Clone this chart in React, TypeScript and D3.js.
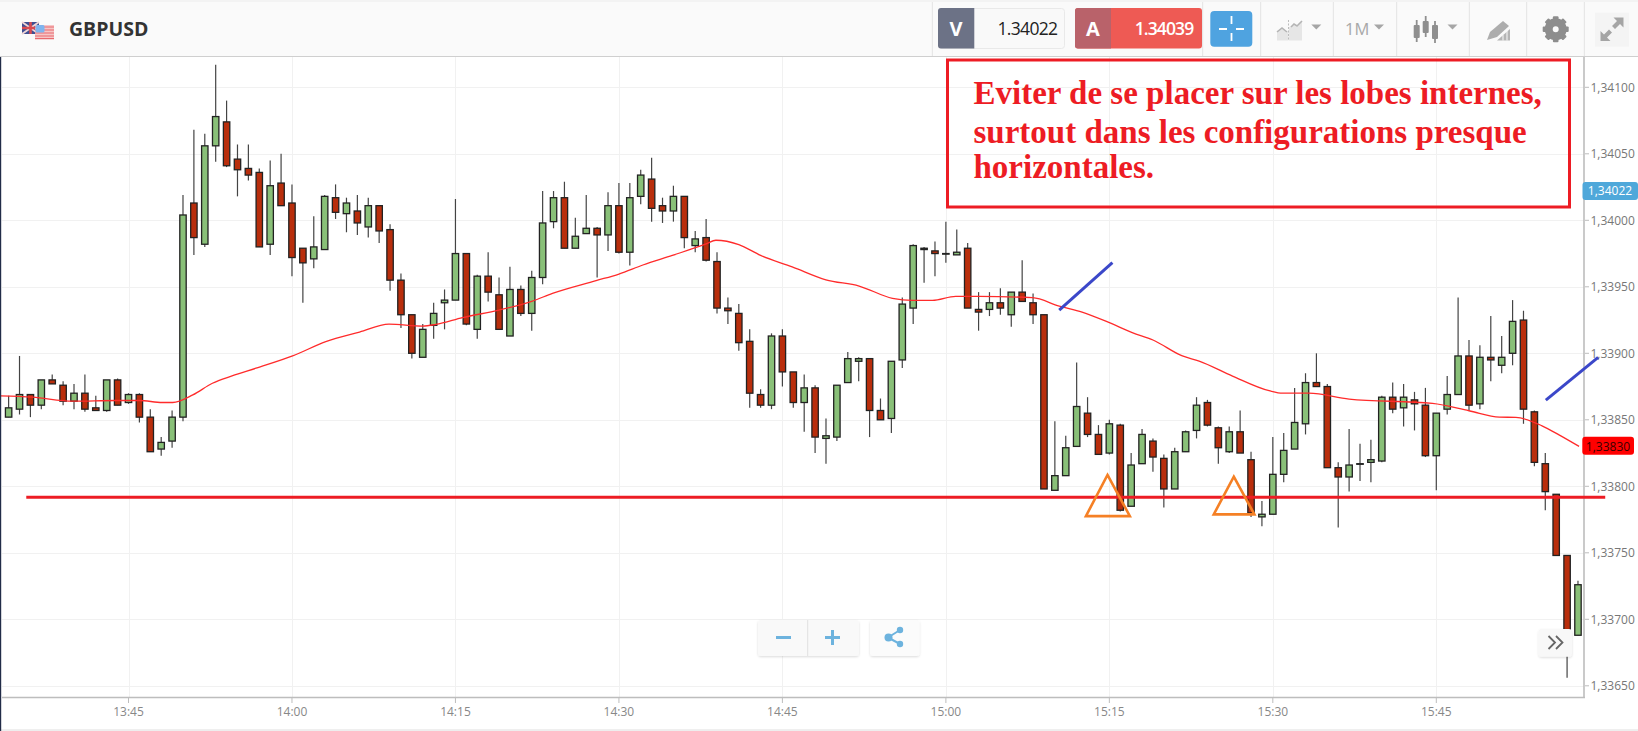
import React from "react";
import * as d3 from "d3";

// All prices are quoted in points of 1e-5 above 1.00000 (33868 = 1,33868)
const firstMinute = new Date(2018, 0, 10, 13, 34);
const highs = [
  33868, 33898, 33869, 33880, 33884, 33879, 33877, 33884, 33868, 33880,
  33881, 33870, 33870, 33858, 33837, 33857, 34019, 34068, 34065, 34117,
  34090, 34057, 34057, 34039, 34045, 34050, 34027, 33979, 34003, 34019,
  34027, 34017, 34019, 34017, 34011, 33997, 33960, 33929, 33922, 33938,
  33948, 34016, 33975, 33959, 33976, 33957, 33965, 33951, 33962, 34022,
  34022, 34029, 34002, 34019, 33995, 34021, 34028, 34028, 34038, 34047,
  34017, 34026, 34018, 33992, 34001, 33976, 33942, 33937, 33918, 33873,
  33915, 33918, 33886, 33884, 33876, 33851, 33876, 33901, 33897, 33896,
  33866, 33894, 33942, 33982, 33980, 33984, 33999, 33993, 33983, 33946,
  33946, 33949, 33946, 33970, 33945, 33929, 33849, 33838, 33893, 33867,
  33846, 33850, 33847, 33825, 33843, 33836, 33824, 33829, 33842, 33867,
  33865, 33845, 33845, 33857, 33826, 33789, 33837, 33840, 33874, 33885,
  33900, 33877, 33818, 33843, 33832, 33835, 33868, 33878, 33877, 33871,
  33874, 33855, 33883, 33942, 33910, 33906, 33928, 33913, 33940, 33932,
  33857, 33825, 33794, 33748, 33729,
];
const lows = [
  33852, 33854, 33852, 33858, 33877, 33861, 33858, 33856, 33857, 33856,
  33861, 33862, 33848, 33826, 33823, 33829, 33849, 33974, 33980, 34044,
  34040, 34018, 34030, 33980, 33974, 34011, 33958, 33938, 33964, 33978,
  34001, 33991, 33989, 33987, 33983, 33947, 33919, 33896, 33897, 33911,
  33918, 33940, 33921, 33911, 33939, 33918, 33913, 33928, 33917, 33952,
  33994, 33979, 33979, 33990, 33957, 33977, 33975, 33966, 34012, 33999,
  33998, 33999, 33979, 33976, 33969, 33930, 33922, 33902, 33859, 33859,
  33858, 33875, 33859, 33841, 33825, 33817, 33834, 33878, 33879, 33837,
  33850, 33840, 33889, 33922, 33953, 33958, 33968, 33974, 33934, 33917,
  33928, 33929, 33920, 33939, 33922, 33798, 33797, 33808, 33830, 33837,
  33824, 33824, 33781, 33785, 33817, 33811, 33784, 33798, 33826, 33836,
  33845, 33817, 33825, 33825, 33777, 33770, 33779, 33803, 33828, 33839,
  33875, 33814, 33769, 33796, 33804, 33803, 33818, 33855, 33845, 33842,
  33822, 33797, 33854, 33869, 33857, 33858, 33879, 33885, 33891, 33847,
  33815, 33782, 33748, 33656, 33688,
];
const opens = [
  33852, 33858, 33869, 33861, 33880, 33876, 33864, 33870, 33859, 33857,
  33880, 33863, 33869, 33852, 33828, 33834, 33852, 34013, 33982, 34056,
  34074, 34046, 34039, 34036, 33982, 34028, 34013, 33979, 33971, 33978,
  34017, 34005, 34007, 33995, 34011, 33993, 33955, 33929, 33897, 33921,
  33938, 33940, 33975, 33918, 33958, 33944, 33913, 33948, 33930, 33957,
  33999, 34017, 33979, 33990, 33994, 33989, 34011, 33976, 34018, 34031,
  34011, 34007, 34018, 33981, 33987, 33969, 33934, 33930, 33909, 33869,
  33861, 33913, 33886, 33863, 33874, 33836, 33837, 33878, 33894, 33896,
  33857, 33851, 33895, 33934, 33978, 33977, 33975, 33974, 33979, 33933,
  33933, 33938, 33929, 33946, 33938, 33929, 33797, 33808, 33830, 33855,
  33839, 33825, 33846, 33785, 33817, 33834, 33821, 33798, 33826, 33842,
  33863, 33844, 33826, 33841, 33820, 33777, 33779, 33809, 33828, 33847,
  33878, 33875, 33814, 33807, 33817, 33818, 33819, 33867, 33859, 33865,
  33861, 33823, 33858, 33869, 33898, 33862, 33897, 33891, 33900, 33925,
  33856, 33817, 33794, 33748, 33688,
];
const closes = [
  33859, 33869, 33861, 33880, 33877, 33864, 33870, 33858, 33857, 33880,
  33861, 33869, 33852, 33826, 33833, 33852, 34004, 33987, 34056, 34078,
  34041, 34038, 34034, 33980, 34026, 34011, 33972, 33968, 33980, 34018,
  34006, 34013, 33998, 34011, 33992, 33955, 33929, 33900, 33918, 33930,
  33940, 33975, 33922, 33958, 33946, 33918, 33948, 33930, 33957, 33998,
  34017, 33979, 33988, 33994, 33989, 34011, 33976, 34017, 34034, 34009,
  34007, 34018, 33987, 33986, 33970, 33934, 33932, 33908, 33870, 33861,
  33913, 33886, 33863, 33874, 33837, 33838, 33876, 33896, 33896, 33857,
  33850, 33894, 33937, 33981, 33979, 33975, 33975, 33976, 33934, 33931,
  33938, 33934, 33946, 33939, 33929, 33798, 33808, 33829, 33860, 33839,
  33824, 33847, 33782, 33816, 33839, 33822, 33798, 33826, 33841, 33861,
  33846, 33829, 33841, 33825, 33780, 33779, 33809, 33827, 33848, 33878,
  33875, 33814, 33807, 33816, 33817, 33820, 33867, 33858, 33867, 33862,
  33823, 33855, 33869, 33898, 33861, 33897, 33895, 33897, 33924, 33858,
  33818, 33796, 33748, 33692, 33726,
];
// Moving average: minute offset from the first candle, and its level
const maMinutes = [
  -0.85, 2.2, 5.9, 9.85, 12, 14.1, 15.05, 16.9, 18.7, 20.5, 22.7, 26.06, 29.1, 32.2, 34.9,
  37.98, 39.2, 41.65, 45, 48.07, 49.9, 53.9, 56, 58.2, 60.9, 64, 64.9, 67, 69, 71.9, 74.99,
  78.04, 81.1, 82.94, 84.77, 86.9, 89.05, 93.95, 96.4, 98.5, 101, 103.1, 105, 107.7, 109.24,
  112.3, 115.66, 116.9, 119.3, 123, 130.65, 134, 136.8, 138.3, 140.7, 142.3, 144.1,
];
const maLevels = [
  33868, 33867, 33864, 33864.5, 33864.5, 33863, 33863, 33868.7, 33877.5, 33883, 33888.8, 33898, 33908.8, 33916, 33921.9,
  33920.5, 33921.7, 33926.8, 33932.5, 33939.3, 33945, 33954.6, 33959.6, 33966.4, 33973.6, 33982.2, 33985, 33981.7, 33973.6, 33965, 33955.3,
  33950.6, 33941.3, 33939.8, 33939.8, 33942.8, 33942.8, 33941.8, 33935.5, 33931, 33923, 33915.5, 33910, 33898, 33894.2,
  33882.9, 33871.9, 33870, 33870, 33865.6, 33862.3, 33856.8, 33852, 33851.8, 33845.5, 33838.5, 33830,
];
const priceTicks = [34100, 34050, 34000, 33950, 33900, 33850, 33800, 33750, 33700, 33650];
const timeTicks = ["13:45", "14:00", "14:15", "14:30", "14:45", "15:00", "15:15", "15:30", "15:45"];
const supportLevel = 33791.7;
const supportSpan = [1.62, 146.5];
const triangles = [
  [[100.83, 33808.5], [102.88, 33777.6], [98.85, 33777.6]],
  [[112.42, 33807.2], [114.31, 33778.9], [110.58, 33778.9]],
];
const blueStrokes = [
  [[96.4, 33932.5], [101.28, 33968.1]],
  [[141.05, 33864.8], [145.85, 33897]],
];
const noteLines = [
  "Eviter de se placer sur les lobes internes,",
  "surtout dans les configurations presque",
  "horizontales.",
];
const bidQuote = "1.34022";
const askQuote = "1.34039";
const bidLabel = "1,34022";
const lastLabel = "1,33830";

const SANS = "'Open Sans', sans-serif";
const toPrice = (pts: number) => (1 + pts / 1e5).toFixed(5).replace(".", ",");
const at = (m: number) => new Date(firstMinute.getTime() + m * 60000);
const hm = (s: string) => {
  const [h, mm] = s.split(":").map(Number);
  return new Date(2018, 0, 10, h, mm);
};

const x = d3.scaleTime().domain([hm("13:45"), hm("15:45")]).range([128.5, 1436.3]);
const y = d3.scaleLinear().domain([34100, 33650]).range([87.3, 685.8]);
const maLine = d3.line<number>()
  .x((_, i) => x(at(maMinutes[i])))
  .y((d) => y(d))
  .curve(d3.curveMonotoneX);

const GREEN = "#89c078";
const RED = "#b92e0c";

function Header() {
  const seps = [932.3, 1202.7, 1260.7, 1333.3, 1396.7, 1469.3, 1526.7, 1584.3];
  const caret = (cx: number) => (
    <path d={`M${cx - 5},24.5 L${cx + 5},24.5 L${cx},29.5 Z`} fill="#a6a6a6" />
  );
  const gearTeeth = d3.range(8).map((i) => (i * 360) / 8);
  return (
    <g>
      <rect x={0} y={0} width={1638} height={56} fill="#fafafa" />
      <line x1={0} x2={1638} y1={1} y2={1} stroke="#ececec" />
      <line x1={0} x2={1638} y1={56.5} y2={56.5} stroke="#cfcfcf" strokeWidth={1.2} />
      {seps.map((s) => (
        <line key={s} x1={s} x2={s} y1={2} y2={56} stroke="#e3e3e3" />
      ))}
      {/* flags */}
      <g>
        <rect x={22} y={22} width={17} height={12} fill="#3f4f93" />
        <path d="M22,22 L39,34 M39,22 L22,34" stroke="#f0d5d5" strokeWidth={2} />
        <path d="M30.5,22 V34 M22,28 H39" stroke="#d94a50" strokeWidth={2.6} />
        <rect x={35} y={25} width={19} height={14} fill="#f6c6c6" />
        <path d="M35,27 H54 M35,30 H54 M35,33 H54 M35,36 H54 M35,38.6 H54" stroke="#e8696e" strokeWidth={1.2} />
        <rect x={35.5} y={25} width={9} height={7.5} rx={1.5} fill="#7fb4ee" />
      </g>
      <text x={69} y={29} dy="0.36em" fontFamily={SANS} fontWeight={700} fontSize={19.5} fill="#333">GBPUSD</text>

      {/* bid */}
      <rect x={938.5} y={8.5} width={126} height={40} rx={3} fill="#f9f9f9" stroke="#e9e9e9" />
      <path d="M974.3,8 H941 a3,3 0 0 0 -3,3 V45.5 a3,3 0 0 0 3,3 H974.3 Z" fill="#6c7286" />
      <text x={956} y={29} dy="0.36em" textAnchor="middle" fontFamily={SANS} fontWeight={700} fontSize={20} fill="#fff">V</text>
      <text x={1057.3} y={28.5} dy="0.36em" textAnchor="end" fontFamily={SANS} fontSize={17.5} letterSpacing={-0.7} fill="#222">{bidQuote}</text>

      {/* ask */}
      <rect x={1075} y={8} width={127} height={40.5} rx={3} fill="#ee5a54" />
      <path d="M1111,8 H1078 a3,3 0 0 0 -3,3 V45.5 a3,3 0 0 0 3,3 H1111 Z" fill="#b9626a" />
      <text x={1093} y={29} dy="0.36em" textAnchor="middle" fontFamily={SANS} fontWeight={700} fontSize={20} fill="#fff">A</text>
      <text x={1193.3} y={28.5} dy="0.36em" textAnchor="end" fontFamily={SANS} fontWeight={600} fontSize={17.5} letterSpacing={-0.9} fill="#fff">{askQuote}</text>

      {/* crosshair button */}
      <rect x={1210.3} y={11} width={42} height={35.7} rx={4} fill="#4fa3e0" />
      <path d="M1219,29 H1227 M1236,29 H1244 M1231.5,16 V24 M1231.5,33 V41" stroke="#fff" strokeWidth={1.8} fill="none" />

      {/* chart type */}
      <path d="M1277,40.5 V31 L1282,28 L1287,32 L1288.5,30 V40.5 Z" fill="#e6e6e6" />
      <path d="M1289,40.5 V27 L1294,25 L1297,27 L1302,21 V40.5 Z" fill="#e6e6e6" />
      <path d="M1277,32 L1282,28 L1287,32 M1291,27 L1294,24 L1297,26 L1302,21" fill="none" stroke="#b4b4b4" strokeWidth={1.6} />
      <line x1={1288.5} x2={1288.5} y1={20} y2={41} stroke="#bdbdbd" strokeDasharray="2 1.5" />
      {caret(1316.3)}

      <text x={1345} y={29.5} dy="0.36em" fontFamily={SANS} fontSize={16.5} fill="#a8a8a8">1M</text>
      {caret(1379)}

      {/* candle type */}
      {[[1416.7, 20, 42, 25, 38], [1425.7, 16, 37, 21, 33], [1435, 21, 43, 25, 39]].map(([cx, a, b, t, u]) => (
        <g key={cx}>
          <line x1={cx} x2={cx} y1={a} y2={b} stroke="#8f8f8f" strokeWidth={1.8} />
          <rect x={cx - 3} y={t} width={6} height={u - t} rx={1} fill="#8f8f8f" />
        </g>
      ))}
      {caret(1452.5)}

      {/* drawing tool */}
      <path d="M1487,40 L1490,32 L1503,21 L1509,26 L1497,37 Z" fill="#adadad" />
      <path d="M1497,40.5 L1510,29 V40.5 Z" fill="#b5b5b5" />
      <path d="M1503,40.5 V35 M1507,40.5 V31" stroke="#fafafa" strokeWidth={1} />

      {/* gear */}
      <g transform="translate(1555.7,29.3)">
        {gearTeeth.map((a) => (
          <rect key={a} x={-2.8} y={-13} width={5.6} height={6} rx={1} fill="#8d8d8d" transform={`rotate(${a})`} />
        ))}
        <circle r={7} fill="none" stroke="#8d8d8d" strokeWidth={8} />
      </g>

      {/* expand */}
      <rect x={1595} y={12.7} width={34} height={34} fill="#f4f4f4" />
      <g fill="#a5a5a5">
        <path d="M1613.5,17.5 H1623.5 V27.5 L1620,24 L1615,29 L1612,26 L1617,21 Z" />
        <path d="M1600.5,31 V41 H1610.5 L1607,37.5 L1612,32.5 L1609,29.5 L1604,34.5 Z" />
      </g>
    </g>
  );
}

export default function App() {
  const step = 6.4;
  return (
    <svg
      width={1638}
      height={731}
      viewBox="0 0 1638 731"
      style={{ position: "absolute", left: 0, top: 0, display: "block", background: "#fff" }}
    >
      <defs>
        <filter id="soft" x="-20%" y="-20%" width="140%" height="140%">
          <feDropShadow dx={0} dy={1} stdDeviation={1} floodColor="#000" floodOpacity={0.14} />
        </filter>
      </defs>
      <rect x={0} y={0} width={1638} height={731} fill="#fff" />

      {/* grid */}
      {priceTicks.map((p) => (
        <line key={p} x1={2} x2={1584} y1={Math.round(y(p)) + 0.5} y2={Math.round(y(p)) + 0.5} stroke="#f1f1f1" />
      ))}
      {timeTicks.map((t) => (
        <line key={t} x1={Math.round(x(hm(t))) + 0.5} x2={Math.round(x(hm(t))) + 0.5} y1={57} y2={697} stroke="#f1f1f1" />
      ))}

      {/* candles */}
      {opens.map((o, i) => {
        const c = closes[i];
        const cx = x(at(i));
        const top = y(Math.max(o, c));
        const bot = y(Math.min(o, c));
        return (
          <g key={i}>
            <line x1={cx} x2={cx} y1={y(highs[i])} y2={y(lows[i])} stroke="#444" strokeWidth={1.2} />
            <rect
              x={cx - step / 2}
              y={top}
              width={step}
              height={Math.max(bot - top, 0.6)}
              fill={c >= o ? GREEN : RED}
              stroke="#222"
              strokeWidth={1.3}
            />
          </g>
        );
      })}

      {/* moving average */}
      <path d={maLine(maLevels) ?? ""} fill="none" stroke="#ff2b2b" strokeWidth={1.3} />

      {/* axes */}
      <line x1={2} x2={1585} y1={697.5} y2={697.5} stroke="#bdbdbd" strokeWidth={1.6} />
      <line x1={1584} x2={1584} y1={57} y2={697.5} stroke="#bdbdbd" strokeWidth={1.6} />
      <line x1={0} x2={1638} y1={730} y2={730} stroke="#dedede" />
      <rect x={0} y={0} width={1.2} height={731} fill="#222c48" />
      {priceTicks.map((p) => (
        <g key={p}>
          <line x1={1585} x2={1589} y1={y(p)} y2={y(p)} stroke="#bdbdbd" />
          <text x={1590.5} y={y(p)} dy="0.36em" fontFamily={SANS} fontSize={12} fill="#777">{toPrice(p)}</text>
        </g>
      ))}
      {timeTicks.map((t) => (
        <g key={t}>
          <line x1={x(hm(t))} x2={x(hm(t))} y1={698} y2={703} stroke="#bdbdbd" />
          <text x={x(hm(t))} y={712} dy="0.36em" textAnchor="middle" fontFamily={SANS} fontSize={12} fill="#888">{t}</text>
        </g>
      ))}

      {/* price flags */}
      <rect x={1582.5} y={182} width={55.5} height={18} rx={3} fill="#4fa8da" />
      <text x={1610} y={y(34022)} dy="0.36em" textAnchor="middle" fontFamily={SANS} fontSize={12} fill="#fff">{bidLabel}</text>
      <rect x={1582.3} y={436.7} width={51.7} height={18} rx={3} fill="#ff0000" />
      <text x={1608} y={y(33830)} dy="0.36em" textAnchor="middle" fontFamily={SANS} fontSize={12} fill="#3a0000">{lastLabel}</text>

      {/* zoom controls */}
      <g filter="url(#soft)">
        <rect x={758} y={620} width={101} height={36} rx={3} fill="#f9f9f9" />
        <rect x={870} y={620} width={49.5} height={36} rx={3} fill="#fbfbfb" />
      </g>
      <line x1={807.7} x2={807.7} y1={620} y2={656} stroke="#e0e0e0" />
      <path d="M776,637.5 H791 M825,637.5 H840 M832.5,630 V645" stroke="#6db3de" strokeWidth={3} fill="none" />
      <path d="M888,637.5 L900,630 M888,637.5 L900,644" stroke="#6db3de" strokeWidth={2} fill="none" />
      <circle cx={888.5} cy={637.5} r={4} fill="#6db3de" />
      <circle cx={900} cy={630} r={3.2} fill="#6db3de" />
      <circle cx={900} cy={644} r={3.2} fill="#6db3de" />

      {/* scroll to end */}
      <rect x={1538.7} y={629} width={33.3} height={27.7} rx={3} fill="#f8f8f8" filter="url(#soft)" />
      <path d="M1548.5,636 L1555,642.5 L1548.5,649 M1556,636 L1562.5,642.5 L1556,649" fill="none" stroke="#666" strokeWidth={1.8} />

      {/* annotations */}
      <line
        x1={x(at(supportSpan[0]))}
        x2={x(at(supportSpan[1]))}
        y1={y(supportLevel)}
        y2={y(supportLevel)}
        stroke="#ed1c24"
        strokeWidth={3}
      />
      {triangles.map((t, i) => (
        <path
          key={i}
          d={`M${t.map(([m, p]) => `${x(at(m))},${y(p)}`).join(" L")} Z`}
          fill="none"
          stroke="#f58025"
          strokeWidth={2.6}
        />
      ))}
      {blueStrokes.map((b, i) => (
        <line
          key={i}
          x1={x(at(b[0][0]))}
          y1={y(b[0][1])}
          x2={x(at(b[1][0]))}
          y2={y(b[1][1])}
          stroke="#3b47c9"
          strokeWidth={3}
        />
      ))}

      <Header />

      {/* note */}
      <rect x={947.5} y={60} width={622} height={147} fill="#fff" fillOpacity={0} stroke="#ed1c24" strokeWidth={3} />
      {noteLines.map((l, i) => (
        <text
          key={i}
          x={973.5}
          y={[104, 142.5, 178][i]}
          fontFamily="'Liberation Serif', serif"
          fontWeight={700}
          fontSize={33}
          fill="#ed1c24"
        >
          {l}
        </text>
      ))}
    </svg>
  );
}
